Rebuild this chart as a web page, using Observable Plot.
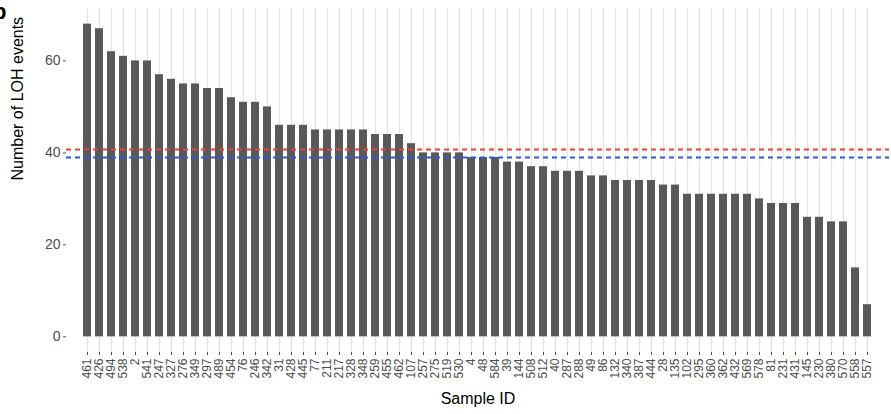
<!DOCTYPE html>
<html>
<head>
<meta charset="utf-8">
<script src="https://cdn.jsdelivr.net/npm/d3@7"></script>
<script src="https://cdn.jsdelivr.net/npm/@observablehq/plot@0.6"></script>
<style>
  html, body { margin: 0; padding: 0; background: white; }
  #wrap { position: relative; width: 891px; height: 414px; overflow: hidden; }
  #panel-letter { position: absolute; left: -7px; top: -1px; font: bold 22px "Liberation Sans", Arial, sans-serif; color: #000; }
</style>
</head>
<body>
<div id="wrap"><div id="panel-letter">b</div></div>
<script>
const samples = ["461","426","494","538","2","541","247","327","276","349","297","489","454","76","246","342","31","428","445","77","211","217","328","348","259","455","462","107","257","275","519","530","4","48","584","39","144","508","512","40","287","288","49","86","132","340","387","444","28","135","102","295","360","362","432","569","578","81","231","431","145","230","380","570","558","557"];
const lohEvents = [68,67,62,61,60,60,57,56,55,55,54,54,52,51,51,50,46,46,46,45,45,45,45,45,44,44,44,42,40,40,40,40,39,39,39,38,38,37,37,36,36,36,35,35,34,34,34,34,33,33,31,31,31,31,31,31,30,29,29,29,26,26,25,25,15,7];
const meanLine = [40.75];
const medianLine = [39];
const yTicks = [0, 20, 40, 60];

const data = samples.map((s, i) => ({sample: s, n: lohEvents[i]}));

const chart = Plot.plot({
  width: 891,
  height: 414,
  marginLeft: 66,
  marginRight: 2,
  marginTop: 8,
  marginBottom: 62,
  style: {fontFamily: "'Liberation Sans', Arial, sans-serif", background: "transparent"},
  x: {domain: samples, paddingInner: 0.33, paddingOuter: 0.265, label: null},
  y: {domain: [-3.4, 71.4], label: null},
  marks: [
    Plot.ruleX(samples, {x: d => d, stroke: "#e4e4e4", strokeWidth: 1.4}),
    Plot.barY(data, {x: "sample", y1: 0, y2: "n", fill: "#595959"}),
    Plot.ruleY(meanLine, {y: d => d, stroke: "#f83a3a", strokeWidth: 2, strokeDasharray: "5,4"}),
    Plot.ruleY(medianLine, {y: d => d, stroke: "#2f55ef", strokeWidth: 2, strokeDasharray: "5,4"}),
    Plot.axisY({ticks: yTicks, tickSize: 3, tickPadding: 3, fontSize: 14, color: "#4d4d4d", label: null}),
    Plot.axisX({tickRotate: -90, tickSize: 3, tickPadding: 3, fontSize: 12, color: "#4d4d4d", label: null}),
    Plot.text(["Number of LOH events"], {frameAnchor: "left", dx: -49, rotate: -90, fontSize: 16, fill: "#000"}),
    Plot.text(["Sample ID"], {frameAnchor: "bottom", dy: 51, fontSize: 16, fill: "#000"})
  ]
});
document.getElementById("wrap").appendChild(chart);
</script>
</body>
</html>
